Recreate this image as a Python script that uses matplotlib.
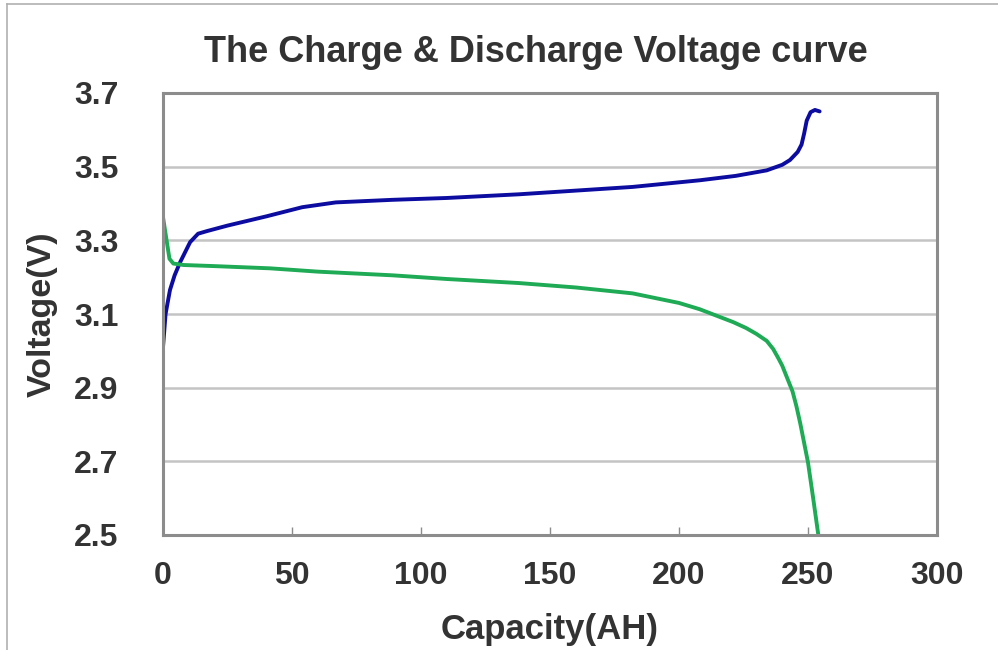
import matplotlib
matplotlib.use("Agg")
import matplotlib.pyplot as plt
from matplotlib.lines import Line2D

# charge curve (blue)
charge_cap = [0, 1, 2.7, 4.5, 6.6, 10.5, 13.6, 17, 25, 40, 54, 67, 89, 110, 138, 160,
              182, 208, 222, 234, 240, 243, 246, 247.5, 248.5, 249.5, 251, 252.7, 254.5]
charge_v = [3.01, 3.10, 3.165, 3.205, 3.24, 3.295, 3.318, 3.325, 3.34, 3.365, 3.39, 3.403,
            3.41, 3.415, 3.425, 3.435, 3.445, 3.463, 3.475, 3.49, 3.505, 3.518, 3.54, 3.56,
            3.59, 3.625, 3.648, 3.654, 3.65]

# discharge curve (green)
dis_cap = [0, 2.5, 4, 8, 20, 41.5, 60, 89, 110, 138, 160, 182, 200, 208, 221, 226, 230,
           234, 236.5, 238.5, 240, 242, 244, 245.5, 247, 248.5, 250, 252, 254]
dis_v = [3.363, 3.25, 3.237, 3.233, 3.23, 3.224, 3.215, 3.205, 3.195, 3.184, 3.172, 3.156,
         3.13, 3.113, 3.078, 3.062, 3.046, 3.027, 3.005, 2.98, 2.96, 2.925, 2.89, 2.85,
         2.803, 2.75, 2.697, 2.6, 2.5]

xticks = [0, 50, 100, 150, 200, 250, 300]
yticks = [2.5, 2.7, 2.9, 3.1, 3.3, 3.5, 3.7]

txt = "#333333"
plt.rcParams['font.family'] = ['Liberation Sans', 'DejaVu Sans']
plt.rcParams['font.weight'] = 'bold'

fig = plt.figure(figsize=(9.98, 6.5), dpi=100)
ax = fig.add_axes([163/998, 1-535/650, 774/998, 442/650])

ax.plot(charge_cap, charge_v, color="#0c0ca0", lw=2.8, solid_capstyle='round',
        solid_joinstyle='round')
ax.plot(dis_cap, dis_v, color="#1faa55", lw=2.8, solid_capstyle='round',
        solid_joinstyle='round')

ax.set_xlim(0, 300)
ax.set_ylim(2.5, 3.7)
ax.set_xticks(xticks)
ax.set_yticks(yticks)
ax.set_yticklabels(["%.1f" % v for v in yticks])
ax.grid(axis='y', color="#c4c4c4", lw=1.8)
ax.set_axisbelow(True)

for s in ax.spines.values():
    s.set_color("#8c8c8c")
    s.set_linewidth(2.2)

ax.tick_params(axis='x', direction='in', length=6, width=1, color="#8c8c8c",
               pad=19, labelsize=23, labelcolor=txt)
ax.tick_params(axis='y', length=0, pad=32, labelsize=23, labelcolor=txt)

ax.set_xlabel("Capacity(AH)", fontsize=25, color=txt, fontweight='bold')
ax.set_ylabel("Voltage(V)", fontsize=24.5, color=txt, fontweight='bold')
ax.xaxis.set_label_coords(0.5, (535-630)/442)
ax.xaxis.label.set_va('center')
ax.yaxis.set_label_coords((42-163)/774, 0.5)
ax.yaxis.label.set_va('center')

fig.text(536/998, 1-52/650, "The Charge & Discharge Voltage curve", ha='center',
         va='center', fontsize=26, color=txt, fontweight='bold')

# thin frame at top and left of the picture
fig.add_artist(Line2D([7/998, 1], [1-4/650, 1-4/650], color="#b0b0b0", lw=1.2))
fig.add_artist(Line2D([7/998, 7/998], [0, 1-4/650], color="#b0b0b0", lw=1.2))

fig.savefig("out.png", dpi=100)
